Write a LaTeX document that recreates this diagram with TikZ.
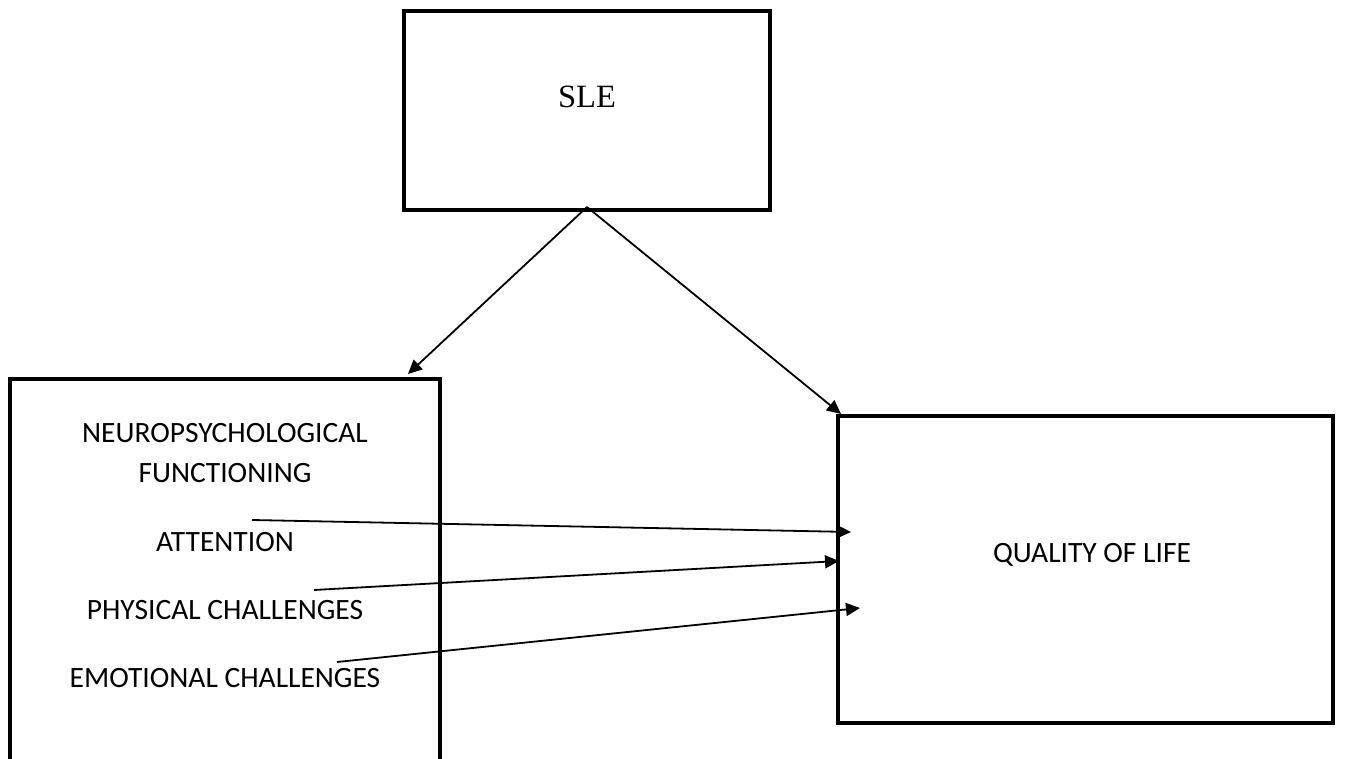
\documentclass[tikz,border=0pt]{standalone}
\usepackage{fontspec}
\setmainfont{Carlito}
\newfontfamily\serifsle{Liberation Serif}
\usetikzlibrary{arrows.meta}
\begin{document}
\begin{tikzpicture}[x=1pt,y=-1pt,
  box/.style={draw=black,line width=4.5pt,rectangle,inner sep=0pt,outer sep=0pt},
  lbl/.style={inner sep=0pt,font=\fontsize{29.5}{35}\selectfont},
  conn/.style={line width=1.8pt,-{Triangle[length=14pt,width=13pt]}}]
\clip (0,0) rectangle (1357,759);
\fill[white] (0,0) rectangle (1357,759);
% boxes
\node[box,minimum width=366pt,minimum height=199pt] (sle) at (587,110.5) {};
\node[box,minimum width=430pt,minimum height=401pt] (neuro) at (225,579.5) {};
\node[box,minimum width=495pt,minimum height=307pt] (qol) at (1085.5,569.5) {};
% texts
\node[inner sep=0pt,font=\serifsle\fontsize{32.5}{38}\selectfont] (sletxt) at (587,97) {SLE};
\node[lbl] (t1) at (225,433) {NEUROPSYCHOLOGICAL};
\node[lbl] (t2) at (225,473) {FUNCTIONING};
\node[lbl] (t3) at (225,542) {ATTENTION};
\node[lbl] (t4) at (225,610) {PHYSICAL CHALLENGES};
\node[lbl] (t5) at (225,678) {EMOTIONAL CHALLENGES};
\node[lbl] (qtxt) at (1092,555) {QUALITY OF LIFE};
% connector end points
\coordinate (apex) at (587,207);
\coordinate (tipN) at (408,374);
\coordinate (tipQ) at (841,414);
\coordinate (s1) at (252,520);
\coordinate (e1) at (851,532);
\coordinate (s2) at (314,590);
\coordinate (e2) at (839,561);
\coordinate (s3) at (337,662);
\coordinate (e3) at (860,608);
% connectors
\draw[conn] (apex) -- (tipN);
\draw[conn] (apex) -- (tipQ);
\draw[conn] (s1) -- (e1);
\draw[conn] (s2) -- (e2);
\draw[conn] (s3) -- (e3);
\end{tikzpicture}
\end{document}
